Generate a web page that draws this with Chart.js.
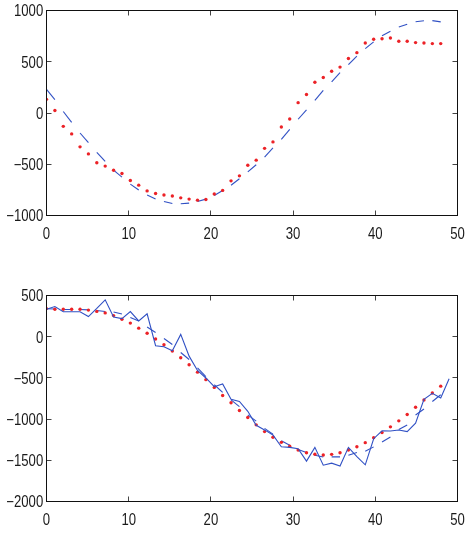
<!DOCTYPE html>
<html><head><meta charset="utf-8">
<script src="https://cdn.jsdelivr.net/npm/chart.js@4/dist/chart.umd.min.js"></script>
<style>
html,body{margin:0;padding:0;background:#fff;width:465px;height:533px;overflow:hidden}
canvas{position:absolute;left:0}
#c1{top:0}
#c2{top:270px}
</style></head><body>
<canvas id="c1" width="465" height="245"></canvas>
<canvas id="c2" width="465" height="263"></canvas>
<script>
// sample positions (x axis)
const xs = [0,1.02,2.04,3.06,4.08,5.10,6.12,7.14,8.16,9.18,10.20,11.22,12.24,13.27,14.29,15.31,16.33,17.35,18.37,19.39,20.41,21.43,22.45,23.47,24.49,25.51,26.53,27.55,28.57,29.59,30.61,31.63,32.65,33.67,34.69,35.71,36.73,37.76,38.78,39.80,40.82,41.84,42.86,43.88,44.90,45.92,46.94,47.96,48.98];

// top panel
const topDots = [133,25,-130,-204,-330,-399,-485,-518,-558,-590,
  -658,-704,-760,-785,-800,-810,-828,-840,-850,-844,
  -790,-755,-662,-613,-510,-460,-345,-282,-137,-59,
  101,180,300,347,407,448,532,589,683,720,
  724,732,700,700,687,683,677,677];
const topDash = [231,131,15,-91,-195,-290,-383,-471,-558,-625,
  -694,-751,-801,-839,-863,-883,-886,-879,-864,-840,
  -805,-757,-705,-642,-575,-505,-430,-340,-258,-160,
  -61,31,124,220,304,393,472,555,628,694,
  754,798,840,866,890,900,901,889];

// bottom panel
const botSolid = [333,366,302,302,302,244,343,447,240,220,
  305,191,278,-110,-122,-171,28,-236,-410,-501,
  -607,-574,-760,-785,-905,-1075,-1131,-1193,-1335,-1343,
  -1360,-1510,-1343,-1559,-1535,-1570,-1343,-1455,-1555,-1238,
  -1142,-1145,-1132,-1152,-1050,-760,-688,-745,-510];
const botDots = [341,333,333,333,333,323,307,289,256,211,
  165,104,41,-28,-97,-175,-256,-340,-430,-521,
  -615,-714,-802,-895,-981,-1070,-1152,-1221,-1282,-1330,
  -1376,-1408,-1427,-1435,-1428,-1408,-1375,-1335,-1286,-1225,
  -1164,-1094,-1021,-944,-857,-769,-683,-600];
const botDash = [340,336,330,330,330,325,318,305,300,275,
  232,191,118,52,-22,-94,-192,-277,-379,-485,
  -583,-676,-766,-848,-949,-1025,-1112,-1182,-1263,-1316,
  -1369,-1406,-1438,-1459,-1459,-1459,-1438,-1406,-1390,-1337,
  -1278,-1217,-1127,-1071,-950,-877,-786,-704];

// tick settings
const xTicks = [0,10,20,30,40,50];
const topYTicks = [-1000,-500,0,500,1000];
const botYTicks = [-2000,-1500,-1000,-500,0,500];

const BLUE = '#3050c4', RED = '#ec2227';
const FONT = "16px 'Liberation Sans', Arial, sans-serif";
const SQUEEZE = 0.82;

const pts = vals => vals.map((v,i)=>({x:xs[i], y:v}));
const fmt = v => String(v).replace('-', '\u2212');

function squeezedText(ctx, text, x, y, align){
  ctx.save();
  ctx.translate(x, y);
  ctx.scale(SQUEEZE, 1);
  ctx.textAlign = align;
  ctx.textBaseline = 'alphabetic';
  ctx.fillText(text, 0, 0);
  ctx.restore();
}

const boxPlugin = {
  id:'box',
  afterDatasetsDraw(chart, args, opts){
    const {ctx, chartArea:a, scales:{x,y}} = chart;
    ctx.save();
    ctx.lineWidth = 1;
    ctx.strokeStyle = '#444';
    const L = 5;
    ctx.beginPath();
    x.ticks.forEach(t=>{
      const px = Math.round(x.getPixelForValue(t.value)-0.5)+0.5;
      ctx.moveTo(px,a.bottom); ctx.lineTo(px,a.bottom-L);
      ctx.moveTo(px,a.top); ctx.lineTo(px,a.top+L);
    });
    y.ticks.forEach(t=>{
      const py = Math.round(y.getPixelForValue(t.value)-0.5)+0.5;
      ctx.moveTo(a.left,py); ctx.lineTo(a.left+L,py);
      ctx.moveTo(a.right,py); ctx.lineTo(a.right-L,py);
    });
    ctx.stroke();
    ctx.strokeStyle = '#111';
    ctx.strokeRect(a.left, a.top, a.right-a.left, a.bottom-a.top);
    // tick labels
    ctx.fillStyle = '#1a1a1a';
    ctx.font = FONT;
    x.ticks.forEach(t=>{
      squeezedText(ctx, fmt(t.value), x.getPixelForValue(t.value), a.bottom + opts.xBase, 'center');
    });
    y.ticks.forEach(t=>{
      squeezedText(ctx, fmt(t.value), a.left - 3.3, y.getPixelForValue(t.value) + 5.8, 'right');
    });
    ctx.restore();
  }
};

function makeChart(id, datasets, yMin, yMax, yTickVals, padTop, xHeight){
  return new Chart(document.getElementById(id), {
    type:'line',
    data:{datasets},
    options:{
      responsive:false, animation:false,
      plugins:{legend:{display:false}, tooltip:{enabled:false}, box:{xBase:23}},
      layout:{padding:{left:0,right:7.5,top:padTop,bottom:0}},
      scales:{
        x:{type:'linear', min:0, max:50,
           grid:{display:false}, border:{display:false},
           afterBuildTicks: s => { s.ticks = xTicks.map(v=>({value:v})); },
           afterFit: s => { s.height = xHeight; },
           ticks:{display:false}},
        y:{type:'linear', min:yMin, max:yMax,
           grid:{display:false}, border:{display:false},
           afterBuildTicks: s => { s.ticks = yTickVals.map(v=>({value:v})); },
           afterFit: s => { s.width = 46.5; },
           ticks:{display:false}}
      }
    },
    plugins:[boxPlugin]
  });
}

const evenSeg = {borderColor: c => (c.p0DataIndex % 2 ? 'rgba(0,0,0,0)' : BLUE)};

makeChart('c1', [
  {data:pts(topDots), showLine:false, pointRadius:1.7, pointBackgroundColor:RED, pointBorderWidth:0, order:0},
  {data:pts(topDash), borderColor:BLUE, borderWidth:1.1, pointRadius:0, tension:0, segment:evenSeg, order:1}
], -1000, 1000, topYTicks, 10.5, 29.5);

makeChart('c2', [
  {data:pts(botDots), showLine:false, pointRadius:1.7, pointBackgroundColor:RED, pointBorderWidth:0, order:1},
  {data:pts(botDash), borderColor:BLUE, borderWidth:1.1, pointRadius:0, tension:0, segment:evenSeg, order:2},
  {data:pts(botSolid), borderColor:BLUE, borderWidth:1.1, pointRadius:0, tension:0, order:0}
], -2000, 500, botYTicks, 25.5, 31.5);
</script>
</body></html>
